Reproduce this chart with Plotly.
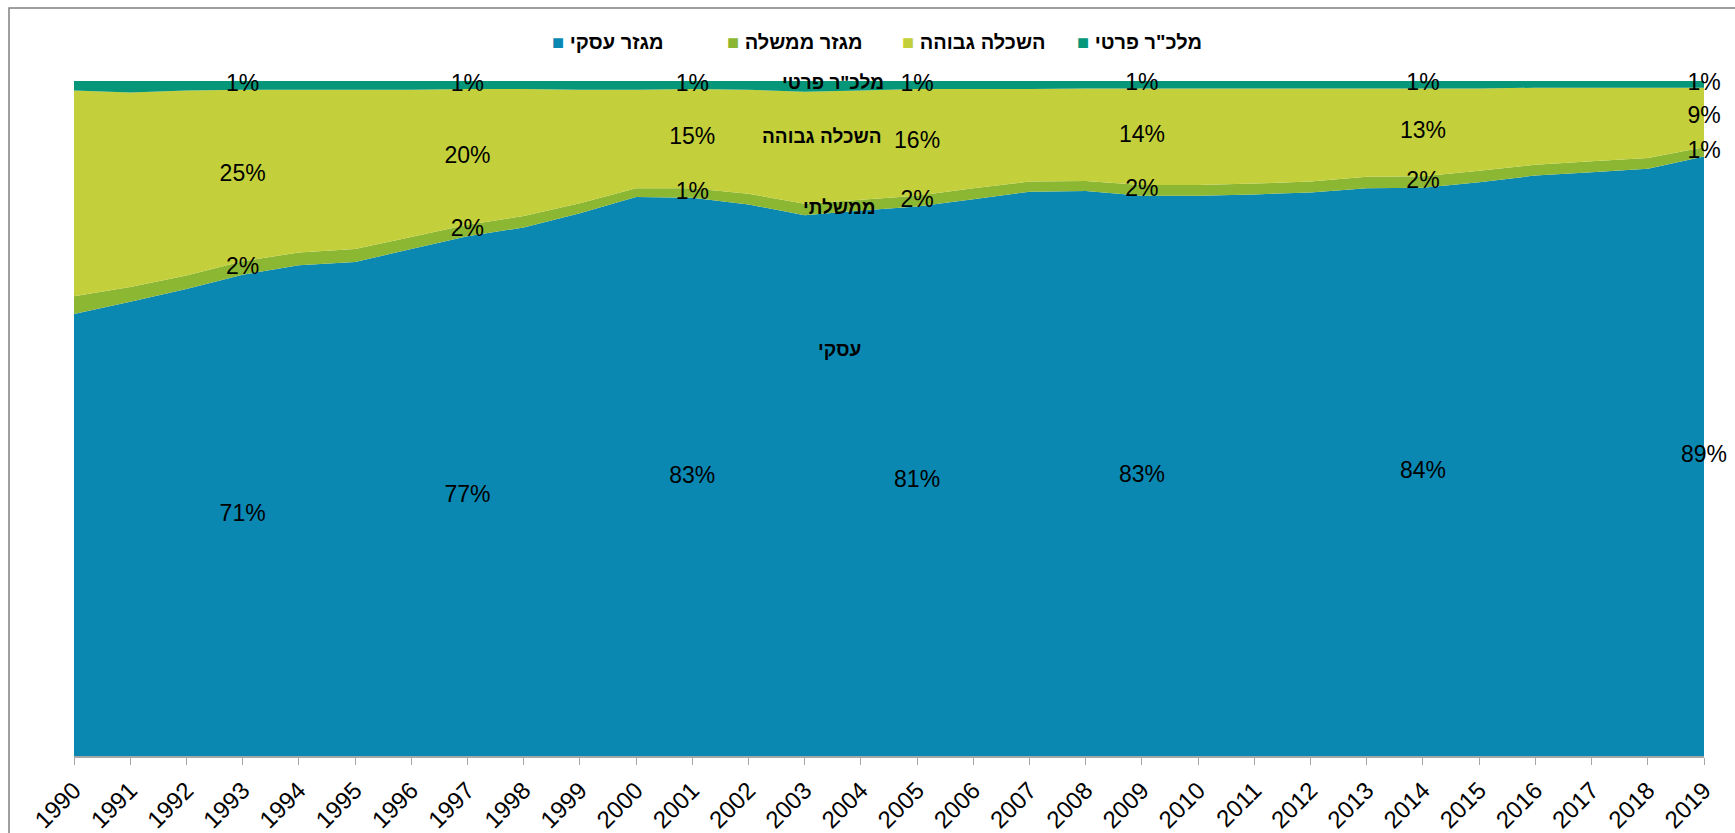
import plotly.graph_objects as go

years = list(range(1990, 2020))
business = [65.5, 67.3, 69.2, 71.3, 72.7, 73.2, 75.1, 77.0, 78.3, 80.4, 82.8, 82.7, 81.7, 80.1, 80.8,
            81.4, 82.5, 83.6, 83.7, 83.0, 83.0, 83.2, 83.5, 84.1, 84.2, 85.0, 86.0, 86.5, 87.0, 88.8]
government = [2.6, 2.2, 2.0, 2.0, 1.9, 1.9, 1.8, 1.7, 1.7, 1.5, 1.3, 1.4, 1.6, 1.7, 1.6,
              1.6, 1.6, 1.5, 1.5, 1.6, 1.6, 1.6, 1.6, 1.7, 1.7, 1.7, 1.6, 1.6, 1.6, 1.4]
higher_ed = [30.5, 28.8, 27.4, 25.4, 24.1, 23.6, 21.8, 20.1, 18.8, 16.8, 14.6, 14.7, 15.4, 16.6, 16.2,
             15.8, 14.7, 13.7, 13.7, 14.3, 14.3, 14.1, 13.8, 13.1, 13.0, 12.2, 11.4, 10.9, 10.4, 8.8]
private_np = [1.4, 1.7, 1.4, 1.3, 1.3, 1.3, 1.3, 1.2, 1.2, 1.3, 1.3, 1.2, 1.3, 1.6, 1.4,
              1.2, 1.2, 1.2, 1.1, 1.1, 1.1, 1.1, 1.1, 1.1, 1.1, 1.1, 1.0, 1.0, 1.0, 1.0]

series_names = ["מגזר עסקי", "מגזר ממשלה", "השכלה גבוהה", 'מלכ"ר פרטי']
series_colors = ["#0b88b2", "#8bb733", "#c3d03b", "#069679"]
label_years = [1993, 1997, 2001, 2005, 2009, 2014, 2019]
inline_names = ["עסקי", "ממשלתי", "השכלה גבוהה", 'מלכ"ר פרטי']

FONT = "Arial, Liberation Sans, sans-serif"
series = [business, government, higher_ed, private_np]

fig = go.Figure()
for vals, name, col in zip(series, series_names, series_colors):
    fig.add_trace(go.Scatter(
        x=years, y=vals, name=name, stackgroup="one", mode="none",
        fillcolor=col, line=dict(width=0), hoverinfo="x+y+name", showlegend=False))

# legend entries: coloured square glyph right before the Hebrew name
for name, col in zip(series_names, series_colors):
    fig.add_trace(go.Scatter(
        x=[None], y=[None], name=f'<span style="color:{col}">■</span> {name}', mode="markers",
        marker=dict(symbol="square", size=1, color="rgba(0,0,0,0)"), showlegend=True))

# data labels at band centres
for si, vals in enumerate(series):
    xs, ys, ts = [], [], []
    for yr in label_years:
        i = years.index(yr)
        base = sum(series[k][i] for k in range(si))
        xs.append(yr)
        ys.append(base + vals[i] / 2)
        ts.append(f"{round(vals[i])}%")
    fig.add_trace(go.Scatter(
        x=xs, y=ys, text=ts, mode="text", showlegend=False, hoverinfo="skip",
        cliponaxis=False, textposition="middle center",
        textfont=dict(family=FONT, size=23, color="#000000")))

# series name labels inside the chart
name_pos = [(2003.62, 60.2), (2003.62, 81.2), (2003.3, 91.8), (2003.5, 99.8)]
for txt, (ax, ay) in zip(inline_names, name_pos):
    fig.add_annotation(x=ax, y=ay, xref="x", yref="y", text=f"<b>{txt}</b>", showarrow=False,
                       font=dict(family=FONT, size=19, color="#000000"))

W, H = 1735, 833
L, R, T, B = 74, 31, 81, 77
pw, ph = W - L - R, H - T - B
fig.add_shape(type="rect", xref="paper", yref="paper",
              x0=(9 - L) / pw, x1=(W + 40 - L) / pw,
              y0=(H - B - (H + 40)) / ph, y1=(H - B - 8) / ph,
              line=dict(color="#808080", width=1.5), fillcolor="rgba(0,0,0,0)", layer="above")

fig.update_layout(
    width=W, height=H,
    margin=dict(l=L, r=R, t=T, b=B, autoexpand=False),
    paper_bgcolor="white", plot_bgcolor="white",
    font=dict(family=FONT, color="#000000"),
    showlegend=True,
    legend=dict(orientation="h", x=(512 - L) / pw, xanchor="left", y=(H - B - 41) / ph, yanchor="middle",
                traceorder="normal", font=dict(family=FONT, size=20, weight="bold"),
                itemwidth=30, entrywidth=130, entrywidthmode="pixels", bgcolor="rgba(0,0,0,0)"),
    xaxis=dict(range=[1990, 2019], tickmode="array", tickvals=years, ticktext=[str(y) for y in years],
               tickangle=-45, tickfont=dict(family=FONT, size=24, color="#000000"),
               ticks="outside", ticklen=7, tickcolor="#a6a6a6", showline=True, linecolor="#a6a6a6",
               linewidth=1.5, showgrid=False, zeroline=False, fixedrange=True, ticklabelstandoff=2),
    yaxis=dict(range=[0, 100], visible=False, showgrid=False, zeroline=False, fixedrange=True),
)

fig.write_html("out.html", post_script="document.body.style.margin='0';",
               config={"displayModeBar": False})
